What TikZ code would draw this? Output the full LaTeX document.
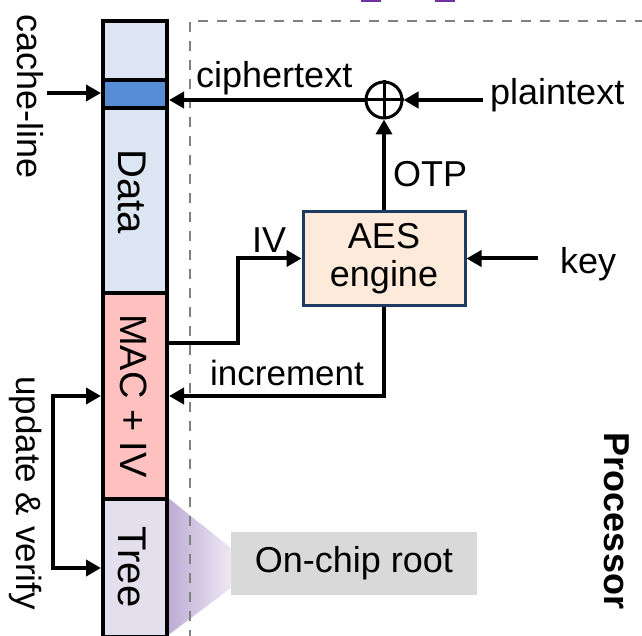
\documentclass[tikz,border=0pt]{standalone}
\usepackage{fontspec}
\setmainfont{Liberation Sans}
\usetikzlibrary{arrows.meta}

\definecolor{memblue}{HTML}{DCE6F2}
\definecolor{lineblue}{HTML}{558ED5}
\definecolor{macpink}{HTML}{FFC0C0}
\definecolor{treelilac}{HTML}{E4DFEC}
\definecolor{aesfill}{HTML}{FDEADA}
\definecolor{aesedge}{HTML}{1F3A5F}
\definecolor{rootgray}{HTML}{D9D9D9}
\definecolor{conedark}{HTML}{BBAAD2}
\definecolor{conelight}{HTML}{EEE9F4}
\definecolor{markpurple}{HTML}{7030A0}
\definecolor{chipgray}{HTML}{808080}

\begin{document}
\begin{tikzpicture}[x=1pt,y=-1pt]
      \tikzstyle{every node}+=[inner sep=0pt, font=\fontsize{36}{38}\selectfont]
      \tikzstyle{seg}=[draw=black, line width=4pt, minimum width=64pt]
      \tikzstyle{wire}=[draw=black, line width=4pt, -{Triangle[length=15pt,width=16pt]}]
      \tikzstyle{vtext}=[rotate=-90]
      \clip (0,0) rectangle (642,636);
      \fill [markpurple] (361,-1) rectangle (381,2);
      \fill [markpurple] (435,-1) rectangle (455,2);
      % cone towards the on-chip root
      \shade [left color=conedark, right color=conelight] (167,497) -- (231,548) -- (231,588) -- (167,636) -- cycle;
      \node [fill=rootgray, minimum width=246pt, minimum height=63pt] (root) at (354,563.5) {On-chip root};
      % processor boundary
      \draw [chipgray, line width=2.2pt, dash pattern=on 10pt off 9pt] (190,640) -- (190,21) -- (650,21);
      \node [vtext, font=\fontsize{36}{38}\selectfont\bfseries] (proc) at (617,521) {Processor};
      % memory column
      \node [seg, fill=memblue, minimum height=59pt] (top) at (135,50.5) {};
      \node [seg, fill=lineblue, minimum height=28pt] (line) at (135,94) {};
      \node [seg, fill=memblue, minimum height=185pt] (data) at (135,200.5) {};
      \node [seg, fill=macpink, minimum height=206pt] (mac) at (135,396) {};
      \node [seg, fill=treelilac, minimum height=138pt] (tree) at (135,568) {};
      \node [vtext, font=\fontsize{40}{40}\selectfont] (datatxt) at (132,192) {Data};
      \node [vtext, font=\fontsize{38}{38}\selectfont] (mactxt) at (134,396) {MAC + IV};
      \node [vtext, font=\fontsize{40}{40}\selectfont] (treetxt) at (132,567) {Tree};
      \node [vtext] (cltxt) at (30,97) {cache-line};
      \node [vtext, font=\fontsize{35}{38}\selectfont] (uvtxt) at (26,493) {update \& verify};
      % encryption engine
      \node [circle, draw=black, line width=3pt, minimum size=36pt] (xor) at (384,100) {};
      \draw [line width=3pt] (xor.north) -- (xor.south) (xor.west) -- (xor.east);
      \node [draw=aesedge, fill=aesfill, line width=3pt, minimum width=162pt, minimum height=93pt, align=center] (aes) at (384,258.5) {\raisebox{-3pt}{AES}\\\raisebox{-3pt}{engine}};
      \node [anchor=base west] (ctxt) at (196,88) {ciphertext};
      \node [anchor=base west] (plain) at (490,105) {plaintext};
      \node [anchor=base west] (otp) at (393,187) {OTP};
      \node [anchor=base west] (key) at (560,273) {key};
      \node [anchor=base west] (ivtxt) at (252,252) {IV};
      \node [anchor=base west, font=\fontsize{35}{38}\selectfont] (inc) at (210,385) {increment};
      % connectors
      \coordinate (clin) at (47,93);
      \draw [wire] (clin) -- (clin -| line.west);
      \draw [wire] (xor.west) -- (xor.west -| line.east);
      \draw [wire, shorten <=7pt] (plain.west |- xor.east) -- (xor.east);
      \draw [wire] (aes.north) -- (xor.south);
      \draw [wire, shorten <=22pt] (key.west |- aes.east) -- (aes.east);
      \draw [wire] ([yshift=53pt]mac.east) -- ++(69,0) |- (aes.west);
      \draw [wire] (aes.south) |- (mac.east);
      \draw [wire, {Triangle[length=15pt,width=16pt]}-{Triangle[length=15pt,width=16pt]}] (mac.west) -- ++(-48,0) |- (tree.west);
\end{tikzpicture}
\end{document}
